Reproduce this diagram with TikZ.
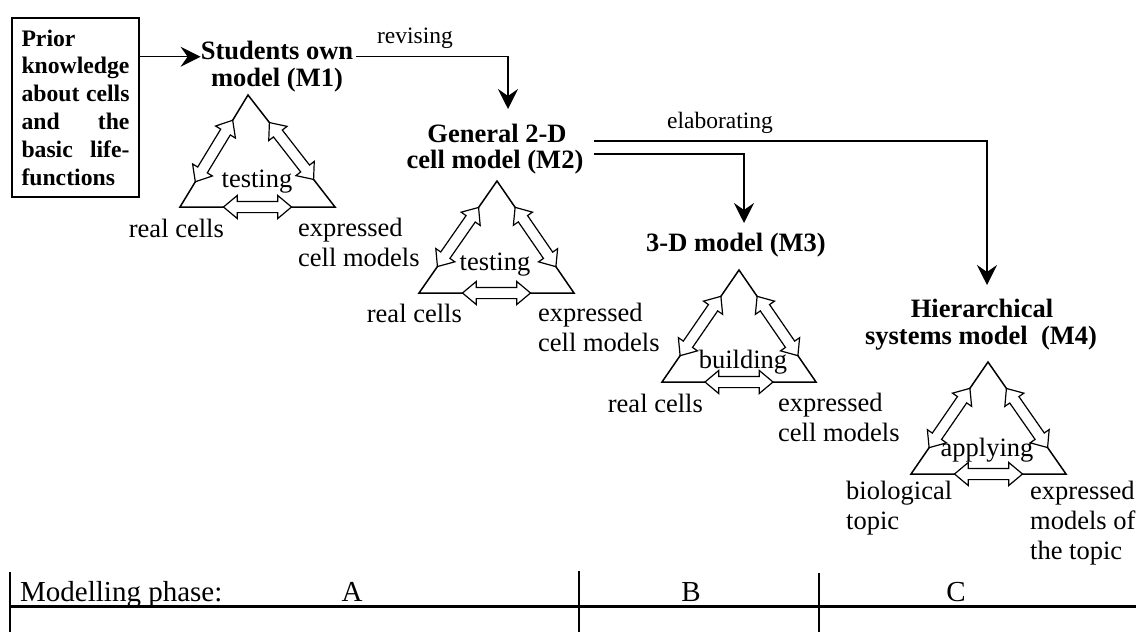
\documentclass[tikz,border=0pt]{standalone}
\usepackage{fontspec}
\setmainfont{Liberation Serif}
\usetikzlibrary{shapes,arrows.meta,positioning}

\begin{document}
\begin{tikzpicture}[x=1pt, y=-1pt,
    title/.style={font=\fontsize{26.5}{30}\selectfont\bfseries, inner sep=0pt},
    lbl/.style={font=\fontsize{26.5}{30}\selectfont, inner sep=0pt, align=left},
    small/.style={font=\fontsize{23.5}{27}\selectfont, inner sep=0pt},
    phase/.style={font=\fontsize{29}{32}\selectfont, inner sep=0pt},
    flow/.style={line width=1.5pt, -{Stealth[length=20pt, width=20pt, inset=7pt]}},
    tri/.style={line width=1.5pt, line join=miter},
    dblarrow/.style={double arrow, draw, fill=white, line width=1.2pt, inner xsep=0pt, inner ysep=5pt,
        minimum height=72pt, double arrow head extend=6pt, double arrow tip angle=80}]
    \useasboundingbox (0,0) rectangle (1136,632);

    % starting point
    \node[draw, line width=1.5pt, text width=108pt, inner xsep=9.5pt, minimum height=179pt, align=left,
          font=\fontsize{23.7}{27.8}\selectfont\bfseries] (prior) at (75.5,107.5)
          {Prior\\knowledge\\about\hfill cells\\and\hfill the\\basic\hfill life-\\functions};

    % model titles
    \node[title] (m1) at (277,50) {Students own};
    \node[title] (m1b) at (277,80) {model (M1)};
    \node[title] (m2) at (497,133) {General 2-D};
    \node[title] (m2b) at (495,162) {cell model (M2)};
    \node[title] (m3) at (736,245) {3-D model (M3)};
    \node[title] (m4) at (982,308) {Hierarchical};
    \node[title] (m4b) at (981,338) {systems model\ \ (M4)};

    \coordinate (revtip) at (508,109);
    \coordinate (m3tip) at (744,223);
    \coordinate (m4tip) at (987,285);

    % triangles with the three double arrows
    \foreach \i/\ax/\ay/\lx/\rx in {1/248/95/180/335, 2/497/181/419/574, 3/739/270/662/816, 4/988/362/911/1066}{
        \coordinate (t\i) at (\ax,\ay);
        \coordinate (l\i) at (\lx,\ay+112);
        \coordinate (r\i) at (\rx,\ay+112);
        \draw[tri] (t\i) -- (l\i) -- (r\i) -- cycle;
        \path (l\i) -- (t\i) node[dblarrow, sloped, midway] (al\i) {};
        \path (t\i) -- (r\i) node[dblarrow, sloped, midway] (ar\i) {};
        \path (l\i) -- (r\i) node[dblarrow, sloped, midway, minimum height=68pt] (ab\i) {};
    }

    % triangle labels
    \node[lbl] (act1) at (257,182) {testing};
    \node[lbl, anchor=east] (real1) at (224,228) {real cells};
    \node[lbl, anchor=west] (expr1) at (298,242) {expressed\\cell models};
    \node[lbl] (act2) at (495,265) {testing};
    \node[lbl, anchor=east] (real2) at (462,313) {real cells};
    \node[lbl, anchor=west] (expr2) at (538,327) {expressed\\cell models};
    \node[lbl] (act3) at (743,362) {building};
    \node[lbl, anchor=east] (real3) at (703,403) {real cells};
    \node[lbl, anchor=west] (expr3) at (778,417) {expressed\\cell models};
    \node[lbl] (act4) at (987,450) {applying};
    \node[lbl, anchor=west] (real4) at (846,508) {biological\\topic};
    \node[lbl, anchor=west] (expr4) at (1030,523) {expressed\\models of\\the topic};

    % connectors
    \draw[flow] (prior.east |- m1.mid west) -- (m1.mid west);
    \draw[flow] ([xshift=3pt]m1.mid east) -| (revtip);
    \draw[flow] ([xshift=10pt, yshift=21pt]m2b.east) -| (m4tip);
    \draw[flow] ([xshift=10pt, yshift=8pt]m2b.east) -| (m3tip);
    \node[small] (rev) at (415,38) {revising};
    \node[small] (elab) at (720,123) {elaborating};

    % phase table
    \draw[line width=3pt] (10,606) -- (1136,606);
    \draw[line width=2pt] (10,572) -- (10,632);
    \draw[line width=2pt] (579,571) -- (579,632);
    \draw[line width=2pt] (819,573) -- (819,632);
    \node[phase, anchor=base west] (phasehead) at (20,601) {Modelling phase:};
    \node[phase, anchor=base] (pha) at (352,601) {A};
    \node[phase, anchor=base] (phb) at (691,601) {B};
    \node[phase, anchor=base] (phc) at (956,601) {C};
\end{tikzpicture}
\end{document}
